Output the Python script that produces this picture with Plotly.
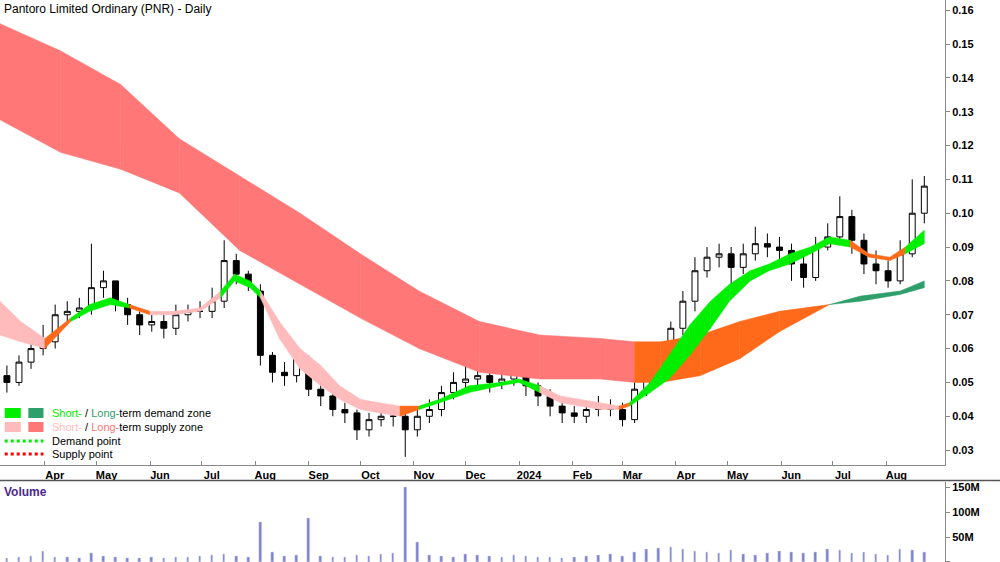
import pandas as pd
import plotly.graph_objects as go

# weekly candles
weeks = pd.date_range("2023-03-10", periods=77, freq="7D")
opens = [0.052,0.050,0.056,0.060,0.062,0.070,0.071,0.072,0.078,0.080,0.073,0.070,0.067,0.068,0.066,0.070,0.071,0.071,0.074,0.086,0.082,0.077,0.058,0.053,0.052,0.057,0.048,0.046,0.042,0.041,0.036,0.039,0.040,0.040,0.036,0.040,0.042,0.047,0.050,0.051,0.052,0.050,0.051,0.054,0.049,0.046,0.043,0.041,0.040,0.042,0.043,0.042,0.039,0.048,0.052,0.058,0.066,0.074,0.083,0.087,0.088,0.084,0.088,0.091,0.090,0.089,0.085,0.081,0.090,0.093,0.099,0.092,0.085,0.083,0.080,0.088,0.100]
highs = [0.055,0.058,0.062,0.067,0.073,0.074,0.075,0.091,0.083,0.080,0.075,0.071,0.070,0.070,0.073,0.073,0.074,0.078,0.092,0.088,0.083,0.079,0.059,0.056,0.059,0.058,0.050,0.048,0.044,0.042,0.041,0.043,0.043,0.041,0.043,0.045,0.049,0.053,0.055,0.059,0.055,0.054,0.057,0.056,0.050,0.048,0.045,0.043,0.044,0.046,0.045,0.044,0.050,0.056,0.061,0.068,0.077,0.087,0.090,0.091,0.090,0.091,0.096,0.094,0.093,0.091,0.088,0.093,0.097,0.105,0.101,0.094,0.089,0.086,0.092,0.110,0.111]
lows = [0.047,0.049,0.054,0.058,0.060,0.067,0.069,0.070,0.075,0.071,0.067,0.064,0.065,0.063,0.064,0.068,0.069,0.069,0.072,0.079,0.077,0.055,0.050,0.049,0.050,0.046,0.043,0.040,0.038,0.033,0.034,0.037,0.037,0.028,0.034,0.038,0.040,0.045,0.048,0.049,0.047,0.048,0.049,0.046,0.043,0.040,0.038,0.038,0.038,0.040,0.040,0.037,0.038,0.046,0.050,0.056,0.064,0.071,0.081,0.084,0.079,0.082,0.086,0.087,0.085,0.080,0.078,0.080,0.089,0.091,0.088,0.082,0.079,0.078,0.079,0.087,0.097]
closes = [0.050,0.056,0.060,0.062,0.070,0.071,0.072,0.078,0.080,0.073,0.070,0.067,0.068,0.066,0.070,0.071,0.071,0.074,0.086,0.082,0.079,0.058,0.053,0.052,0.057,0.048,0.046,0.042,0.041,0.036,0.039,0.040,0.040,0.036,0.040,0.042,0.047,0.050,0.051,0.052,0.050,0.051,0.054,0.049,0.046,0.043,0.041,0.040,0.042,0.043,0.042,0.039,0.048,0.052,0.058,0.066,0.074,0.083,0.087,0.088,0.084,0.088,0.091,0.090,0.089,0.085,0.081,0.090,0.093,0.099,0.092,0.085,0.083,0.080,0.088,0.100,0.108]
volume_m = [8,10,12,22,10,9,8,18,12,10,8,7,9,8,10,9,12,14,16,12,10,80,20,12,14,88,12,10,9,14,12,16,18,150,40,14,12,10,16,14,12,10,14,12,10,9,8,10,12,14,16,12,20,25,28,30,25,22,20,18,24,16,14,18,22,20,18,20,26,24,18,20,16,14,26,24,20]

# zone bands: day offsets from start, upper/lower edges, state of segment
start = pd.Timestamp("2023-03-06")
long_days = [0,35,70,104,139,174,209,243,278,313,348,368,383,406,429,452,481,499,522,536]
long_hi = [0.156,0.148,0.138,0.122,0.111,0.100,0.088,0.077,0.068,0.064,0.063,0.062,0.062,0.064,0.068,0.071,0.073,0.0755,0.077,0.080]
long_lo = [0.1276,0.118,0.113,0.106,0.089,0.079,0.069,0.060,0.053,0.051,0.051,0.050,0.050,0.052,0.057,0.065,0.073,0.074,0.076,0.078]
long_state = ["s"]*11 + ["t"]*5 + ["d"]*4

short_days = [0,12,26,41,52,64,75,87,101,116,128,136,145,151,162,174,186,197,209,220,232,243,255,272,290,301,313,325,336,348,359,365,377,388,400,412,423,435,446,458,470,481,493,504,516,525,536]
short_hi = [0.074,0.068,0.063,0.069,0.073,0.075,0.073,0.071,0.071,0.072,0.077,0.082,0.080,0.077,0.068,0.060,0.055,0.049,0.045,0.044,0.043,0.043,0.045,0.049,0.050,0.051,0.049,0.046,0.045,0.044,0.043,0.044,0.050,0.058,0.067,0.074,0.079,0.083,0.085,0.088,0.090,0.093,0.092,0.088,0.087,0.090,0.095]
short_lo = [0.064,0.062,0.060,0.068,0.071,0.073,0.072,0.070,0.070,0.071,0.075,0.080,0.078,0.075,0.063,0.054,0.049,0.045,0.042,0.041,0.040,0.042,0.044,0.047,0.049,0.050,0.047,0.044,0.043,0.042,0.042,0.043,0.047,0.051,0.058,0.066,0.074,0.080,0.083,0.085,0.088,0.091,0.090,0.087,0.086,0.088,0.091]
short_state = ["s","s","t","d","d","d","t","s","s","s","d","d","d","s","s","s","s","s","s","s","t","d","d","d","d","d","s","s","s","s","t","d","d","d","d","d","d","d","d","d","d","d","t","t","t","d","d"]

long_col = {"s": "#ff7777", "t": "#ff6a1a", "d": "#2e9e6a"}
short_col = {"s": "#ffbbbb", "t": "#ff6a1a", "d": "#00ee00"}

fig = go.Figure()

def add_band(days, hi, lo, state, cols):
    for i in range(len(days) - 1):
        d0 = start + pd.Timedelta(days=days[i])
        d1 = start + pd.Timedelta(days=days[i + 1])
        c = cols[state[i]]
        fig.add_trace(go.Scatter(x=[d0, d1, d1, d0, d0],
                                 y=[hi[i], hi[i + 1], lo[i + 1], lo[i], hi[i]],
                                 fill="toself", fillcolor=c, mode="lines",
                                 line=dict(width=0.5, color=c),
                                 hoverinfo="skip", showlegend=False))

add_band(long_days, long_hi, long_lo, long_state, long_col)
add_band(short_days, short_hi, short_lo, short_state, short_col)

fig.add_trace(go.Candlestick(x=weeks, open=opens, high=highs, low=lows, close=closes,
                             increasing=dict(line=dict(color="black", width=1), fillcolor="white"),
                             decreasing=dict(line=dict(color="black", width=1), fillcolor="black"),
                             whiskerwidth=0, showlegend=False))

fig.add_trace(go.Bar(x=weeks, y=volume_m, marker_color="#8080cc", width=1.5 * 86400000,
                     yaxis="y2", xaxis="x2", showlegend=False))

xr = ["2023-03-06", "2024-09-04"]
ticks = pd.date_range("2023-04-01", "2024-08-01", freq="MS")
labels = [t.strftime("%b") if t.month != 1 else str(t.year) for t in ticks]
bold = dict(size=11, family="Liberation Sans", color="black", weight="bold")

fig.update_layout(
    width=1000, height=562, margin=dict(l=0, r=55, t=0, b=0),
    plot_bgcolor="white", paper_bgcolor="white",
    font=dict(family="Liberation Sans, Arial", size=11, color="black"),
    xaxis=dict(range=xr, domain=[0, 1], anchor="y", tickvals=ticks, ticktext=labels,
               ticks="inside", ticklen=4, tickcolor="#888", showgrid=False,
               showline=True, linecolor="#888", rangeslider=dict(visible=False),
               tickfont=bold, ticklabelshift=10),
    yaxis=dict(domain=[0.1726, 1], side="right", range=[0.0256, 0.163],
               tickvals=[0.03,0.04,0.05,0.06,0.07,0.08,0.09,0.10,0.11,0.12,0.13,0.14,0.15,0.16],
               ticktext=["0.03","0.04","0.05","0.06","0.07","0.08","0.09","0.10","0.11","0.12","0.13","0.14","0.15","0.16"],
               ticks="outside", ticklen=4, tickcolor="#888", showgrid=False, tickfont=bold,
               showline=True, linecolor="#888", mirror=False, zeroline=False),
    xaxis2=dict(range=xr, domain=[0, 1], anchor="y2", showticklabels=False,
                showgrid=False, showline=False),
    yaxis2=dict(domain=[0, 0.142], side="right", range=[0, 160],
                tickvals=[0, 50, 100, 150], ticktext=["0", "50M", "100M", "150M"],
                ticks="outside", ticklen=4, tickcolor="#888", showgrid=False, tickfont=bold,
                showline=True, linecolor="#888", zeroline=False),
    bargap=0,
)

# panel separator
fig.add_shape(type="line", xref="paper", yref="paper", x0=0, x1=1.06, y0=0.145, y1=0.145,
              line=dict(color="#555", width=1.5))

fig.add_annotation(x=0.002, y=1.0, xref="paper", yref="paper", xanchor="left", yanchor="top",
                   text="Pantoro Limited Ordinary (PNR) - Daily", showarrow=False,
                   font=dict(size=12, color="black"))
fig.add_annotation(x=0.002, y=0.14, xref="paper", yref="paper", xanchor="left", yanchor="top",
                   text="<b>Volume</b>", showarrow=False, font=dict(size=12, color="#4b2a8a"))

# manual legend
def py(p):
    return 1 - p / 562

rows = [413, 427, 441, 454]
for (x0, x1, c) in [(5, 22, "#00ee00"), (30, 46, "#2e9e6a")]:
    fig.add_shape(type="rect", xref="paper", yref="paper", x0=x0 / 1000, x1=x1 / 1000,
                  y0=py(rows[0] + 5), y1=py(rows[0] - 5), fillcolor=c, line_width=0)
for (x0, x1, c) in [(5, 22, "#ffbbbb"), (30, 46, "#ff7777")]:
    fig.add_shape(type="rect", xref="paper", yref="paper", x0=x0 / 1000, x1=x1 / 1000,
                  y0=py(rows[1] + 5), y1=py(rows[1] - 5), fillcolor=c, line_width=0)
for r, c in [(rows[2], "#00ee00"), (rows[3], "#ff0000")]:
    fig.add_shape(type="line", xref="paper", yref="paper", x0=0.005, x1=0.046,
                  y0=py(r), y1=py(r), line=dict(color=c, width=3, dash="dot"))
texts = [
    "<span style='color:#00ee00'>Short-</span> / <span style='color:#2e9e6a'>Long-</span>term demand zone",
    "<span style='color:#ffbbbb'>Short-</span> / <span style='color:#ff7777'>Long-</span>term supply zone",
    "Demand point",
    "Supply point",
]
for r, t in zip(rows, texts):
    fig.add_annotation(x=0.053, y=py(r), xref="paper", yref="paper", xanchor="left",
                       yanchor="middle", text=t, showarrow=False, font=dict(size=11))

fig.write_html("out.html", config={"displayModeBar": False},
               post_script="document.body.style.margin='0';")
